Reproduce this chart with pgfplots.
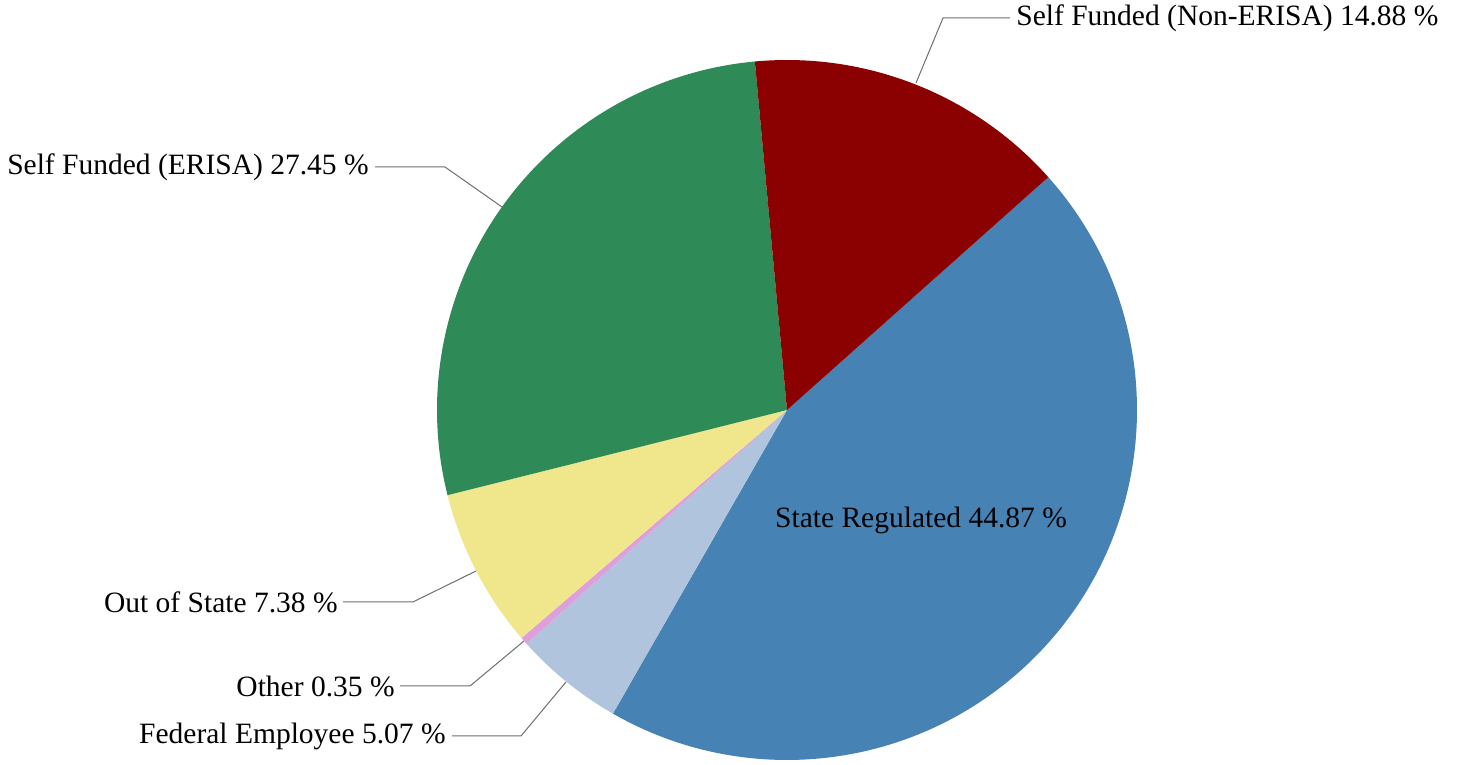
\documentclass[border=0pt]{standalone}
\usepackage{fontspec}
\setmainfont{Liberation Serif}
\usepackage{pgfplots}
\usepackage{pgfplotstable}
\pgfplotsset{compat=1.18}
\definecolor{cSR}{HTML}{4682B4}
\definecolor{cFE}{HTML}{B0C4DE}
\definecolor{cOT}{HTML}{DDA0DD}
\definecolor{cOS}{HTML}{F0E68C}
\definecolor{cER}{HTML}{2E8B57}
\definecolor{cNE}{HTML}{8B0000}
\definecolor{leader}{RGB}{110,110,110}
\pgfplotstableread{
name value col
StateRegulated 44.87 cSR
FederalEmployee 5.07 cFE
Other 0.35 cOT
OutOfState 7.38 cOS
SelfFundedERISA 27.45 cER
SelfFundedNonERISA 14.88 cNE
}\piedata
\begin{document}
\begin{tikzpicture}[font=\fontsize{14.75}{17}\selectfont]
\begin{axis}[
  width=728.5pt, height=382.5pt, scale only axis,
  xmin=0, xmax=1457, ymin=0, ymax=765,
  hide axis, clip=false]
\coordinate (bl) at (axis cs:0,0);
\coordinate (tr) at (axis cs:1457,765);
\pgfmathsetmacro\cur{41.7}
\pgfplotsforeachungrouped \i in {0,...,5}{%
  \pgfplotstablegetelem{\i}{value}\of\piedata
  \let\sliceval=\pgfplotsretval
  \pgfplotstablegetelem{\i}{col}\of\piedata
  \let\slicecol=\pgfplotsretval
  \pgfmathsetmacro\nxt{\cur-3.6*\sliceval}%
  \edef\temp{\noexpand\fill[\slicecol] (axis cs:787,355) -- ++(\cur:175pt) arc[start angle=\cur, end angle=\nxt, radius=175pt] -- cycle;}%
  \temp
  \global\let\cur\nxt
}
% leader lines
\draw[leader, line width=0.5pt] (axis cs:916,682) -- (axis cs:943,747) -- (axis cs:1010,747);
\draw[leader, line width=0.5pt] (axis cs:502,558) -- (axis cs:445,598) -- (axis cs:375,598);
\draw[leader, line width=0.5pt] (axis cs:476,194) -- (axis cs:413,163) -- (axis cs:343,163);
\draw[leader, line width=0.5pt] (axis cs:524,124) -- (axis cs:470,79) -- (axis cs:400,79);
\draw[leader, line width=0.5pt] (axis cs:566,83) -- (axis cs:521,29) -- (axis cs:452,29);
% labels
\node[anchor=west, inner sep=0pt] at (axis cs:1016,747) {Self Funded (Non-ERISA) 14.88 \%};
\node[anchor=east, inner sep=0pt] at (axis cs:369,598) {Self Funded (ERISA) 27.45 \%};
\node[anchor=east, inner sep=0pt] at (axis cs:338,163) {Out of State 7.38 \%};
\node[anchor=east, inner sep=0pt] at (axis cs:395,79) {Other 0.35 \%};
\node[anchor=east, inner sep=0pt] at (axis cs:446,29) {Federal Employee 5.07 \%};
\node[inner sep=0pt] at (axis cs:921,245) {State Regulated 44.87 \%};
\end{axis}
\pgfresetboundingbox
\path (bl) rectangle (tr);
\end{tikzpicture}
\end{document}
